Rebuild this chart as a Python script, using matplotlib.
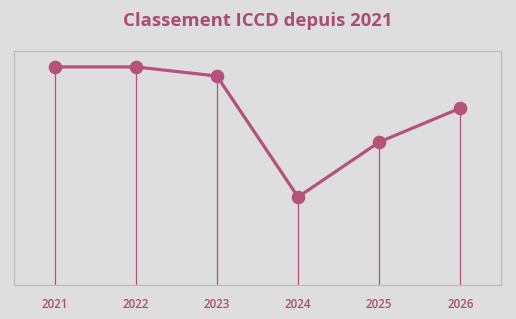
import matplotlib
matplotlib.use("Agg")
import matplotlib.pyplot as plt

# ── Data ──────────────────────────────────────────────────────────────────────
years  = ["2021", "2022", "2023", "2024", "2025", "2026"]
values = [93.2, 93.2, 89.3, 37.6, 61.1, 75.6]

BG     = "#DEDEDE"
PINK   = "#B5527C"
TEXT   = "#A84D74"
BORDER = "#BDBDBD"

fig = plt.figure(figsize=(5.16, 3.19), dpi=100, facecolor=BG)
ax = fig.add_axes([14 / 516, 1 - 285 / 319, (501 - 14) / 516, (285 - 51) / 319])
ax.set_facecolor(BG)

x = range(len(years))
ax.vlines(x, 0, values, color=PINK, linewidth=0.9, zorder=2)
ax.plot(x, values, color=PINK, linewidth=2.3, marker="o", markersize=8.8, zorder=3)

ax.set_xlim(-0.5, len(years) - 0.5)
ax.set_ylim(0, 100)
ax.set_yticks([])
ax.set_xticks(list(x))
ax.set_xticklabels(years, fontsize=8.3, fontweight="semibold", color=TEXT, family="Open Sans")
ax.tick_params(axis="x", length=0, pad=9)
for s in ax.spines.values():
    s.set_color(BORDER)
    s.set_linewidth(0.9)

fig.text(0.5, 1 - 21 / 319, "Classement ICCD depuis 2021", ha="center", va="center",
         fontsize=13.3, fontweight="bold", color=TEXT, family="Open Sans")

fig.savefig("out.png", dpi=100, facecolor=BG)
